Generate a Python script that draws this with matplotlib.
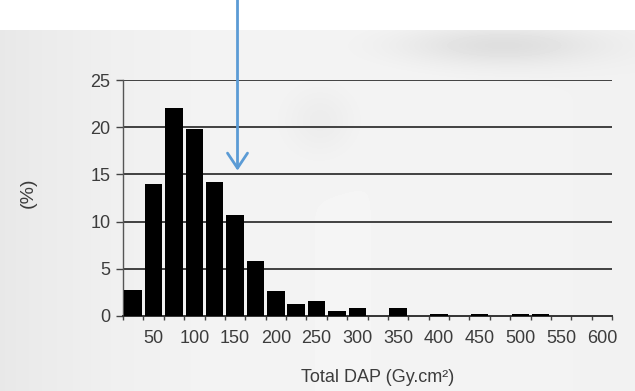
import numpy as np
import matplotlib
matplotlib.use("Agg")
import matplotlib.pyplot as plt

# Histogram of total dose-area product, bins of 25 Gy.cm2 labelled by upper edge
bin_upper = [25, 50, 75, 100, 125, 150, 175, 200, 225, 250, 275, 300,
             325, 350, 375, 400, 425, 450, 475, 500, 525, 550, 575, 600]
percent = [2.8, 14.0, 22.0, 19.8, 14.2, 10.7, 5.8, 2.7, 1.3, 1.6, 0.5, 0.8,
           0.0, 0.8, 0.0, 0.2, 0.0, 0.2, 0.0, 0.2, 0.2, 0.0, 0.0, 0.0]
y_ticks = [0, 5, 10, 15, 20, 25]
x_label = "Total DAP (Gy.cm²)"
y_label = "(%)"
marker_pos = 5.12      # category position of the arrow
marker_tip = 15.4      # arrow tip height (%)

W, H, DPI = 635, 391, 100
fig = plt.figure(figsize=(W / DPI, H / DPI), dpi=DPI, facecolor="white")

# paper-like backdrop: white strip on top, soft grey scan below
bg = fig.add_axes([0, 0, 1, 1], zorder=-10)
yy, xx = np.mgrid[0:H, 0:W]
shade = 0.945 - 0.04 * np.exp(-xx / 120.0) + 0.015 * np.exp(-((xx - 300) / 250.0) ** 2)
shade -= 0.08 * np.exp(-(((xx - 500) / 100.0) ** 2 + ((yy - 45) / 20.0) ** 2))
shade -= 0.03 * np.exp(-(((xx - 320) / 35.0) ** 2 + ((yy - 120) / 35.0) ** 2))
shade[:30, :] = 1.0
bg.imshow(np.clip(shade, 0, 1), cmap="gray", vmin=0, vmax=1, aspect="auto",
          extent=[0, W, H, 0], interpolation="bilinear")
bg.set_axis_off()

ax = fig.add_axes([123 / W, 1 - 316 / H, (612 - 123) / W, (316 - 80) / H])
ax.patch.set_alpha(0)

pos = np.arange(len(bin_upper))
ax.bar(pos, percent, width=0.86, color="black", zorder=3)

ax.set_xlim(-0.5, len(bin_upper) - 0.5)
ax.set_ylim(0, 25)

text_color = "#3c3c3c"
font = "Liberation Sans"

# y axis with horizontal rules
ax.set_yticks(y_ticks)
ax.set_yticklabels([str(v) for v in y_ticks], fontsize=13, color=text_color,
                   family=font)
ax.tick_params(axis="y", length=5, width=1.0, color="#444444", pad=4)
for v in y_ticks[1:]:
    ax.axhline(v, color="#333333", lw=1.3, zorder=2)

# x axis: every other category labelled, ticks on bin edges
ax.set_xticks(pos[1::2])
ax.set_xticklabels([str(b) for b in bin_upper[1::2]], fontsize=13,
                   color=text_color, family=font)
ax.tick_params(axis="x", length=0, pad=10)
ax.set_xticks(np.arange(len(bin_upper) + 1) - 0.5, minor=True)
ax.tick_params(axis="x", which="minor", length=3, width=1.0, color="#444444")

for side in ("top", "right"):
    ax.spines[side].set_visible(False)
ax.spines["left"].set_color("#555555")
ax.spines["left"].set_linewidth(1.0)
ax.spines["bottom"].set_color("#333333")
ax.spines["bottom"].set_linewidth(1.4)

fig.text(28 / W, 1 - 193 / H, y_label, rotation=90, ha="center", va="center",
         fontsize=14, color=text_color, family=font)
fig.text(378 / W, 1 - 378 / H, x_label, ha="center", va="center",
         fontsize=13, color=text_color, family=font)

# pointer arrow from the top edge down into the chart
ax.annotate("", xy=(marker_pos, marker_tip), xycoords="data",
            xytext=(marker_pos, 1.0), textcoords=("data", "figure fraction"),
            arrowprops=dict(arrowstyle="->,head_length=0.6,head_width=0.4",
                            color="#5b9bd5", lw=2, mutation_scale=18,
                            shrinkA=0, shrinkB=0),
            annotation_clip=False, zorder=10)

fig.savefig("out.png", dpi=DPI, facecolor="white")
